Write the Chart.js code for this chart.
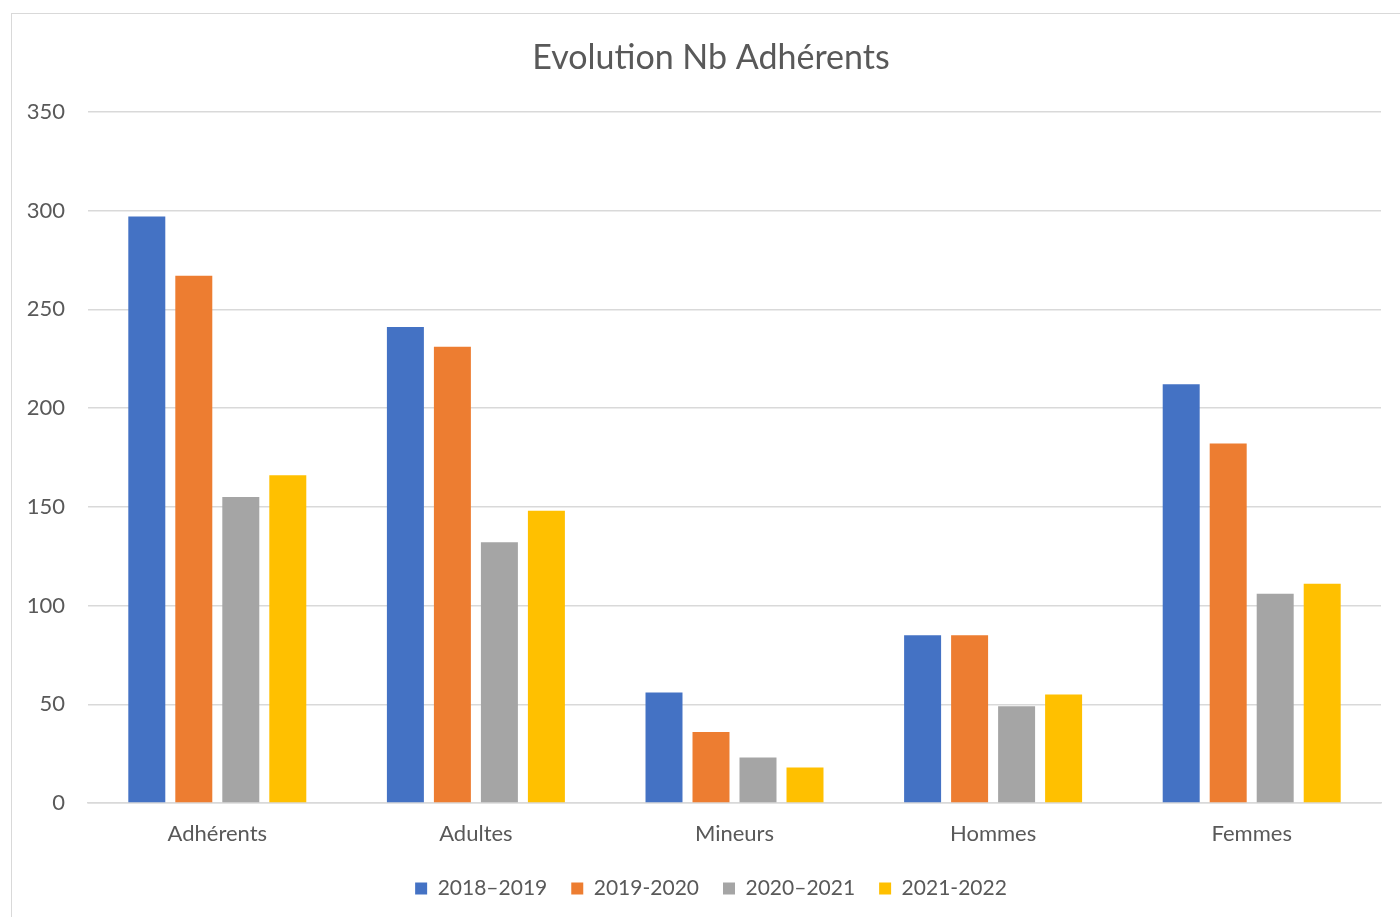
<!DOCTYPE html>
<html>
<head>
<meta charset="utf-8">
<script src="https://cdn.jsdelivr.net/npm/chart.js@4/dist/chart.umd.min.js"></script>
<style>
  html, body { margin: 0; padding: 0; background: #fff; overflow: hidden; width: 1400px; height: 917px; }
  #frame { position: absolute; left: 11px; top: 13px; width: 1398px; height: 920px; border: 1px solid #d9d9d9; background: #fff; }
  #c { display: block; }
</style>
</head>
<body>
<div id="frame"><canvas id="c" width="1398" height="920"></canvas></div>
<script>
const categories = ['Adhérents', 'Adultes', 'Mineurs', 'Hommes', 'Femmes'];
const seriesNames = ['2018–2019', '2019-2020', '2020–2021', '2021-2022'];
const s2018_2019 = [297, 241, 56, 85, 212];
const s2019_2020 = [267, 231, 36, 85, 182];
const s2020_2021 = [155, 132, 23, 49, 106];
const s2021_2022 = [166, 148, 18, 55, 111];
const seriesColors = ['#4472C4', '#ED7D31', '#A5A5A5', '#FFC000'];
const yTicks = { min: 0, max: 350, step: 50 };
const titleText = 'Evolution Nb Adhérents';

const seriesValues = [s2018_2019, s2019_2020, s2020_2021, s2021_2022];
const textColor = '#595959';
const fontFamily = 'Lato, "Noto Sans", sans-serif';

new Chart(document.getElementById('c'), {
  type: 'bar',
  data: {
    labels: categories,
    datasets: seriesValues.map((vals, i) => ({
      label: seriesNames[i],
      data: vals,
      backgroundColor: seriesColors[i],
      borderWidth: 0,
      categoryPercentage: 0.727,
      barPercentage: 0.787
    }))
  },
  options: {
    responsive: false,
    animation: false,
    devicePixelRatio: 1,
    layout: { padding: { left: 0, right: 0, top: 0, bottom: 25 } },
    plugins: {
      title: {
        display: true,
        text: titleText,
        color: textColor,
        font: { family: fontFamily, size: 34, weight: 'normal' },
        padding: { top: 24, bottom: 33 }
      },
      legend: {
        display: true,
        position: 'bottom',
        labels: {
          color: textColor,
          font: { family: fontFamily, size: 21 },
          boxWidth: 12,
          boxHeight: 12,
          padding: 24
        }
      },
      tooltip: { enabled: false }
    },
    scales: {
      x: {
        afterFit: (s) => { s.height = 51; },
        grid: { display: false, drawTicks: false },
        border: { display: true, color: '#d9d9d9', width: 1.5 },
        ticks: { color: textColor, font: { family: fontFamily, size: 22 }, padding: 18 }
      },
      y: {
        min: yTicks.min,
        max: yTicks.max,
        afterFit: (s) => { s.width = 76; },
        grid: { color: '#d9d9d9', lineWidth: 1.5, drawTicks: false },
        border: { display: false },
        ticks: { stepSize: yTicks.step, color: textColor, font: { family: fontFamily, size: 22 }, padding: 23 }
      },
      yRight: {
        type: 'linear',
        position: 'right',
        display: true,
        afterFit: (s) => { s.width = 29; },
        grid: { display: false, drawTicks: false },
        border: { display: false },
        ticks: { display: false }
      }
    }
  }
});
</script>
</body>
</html>
